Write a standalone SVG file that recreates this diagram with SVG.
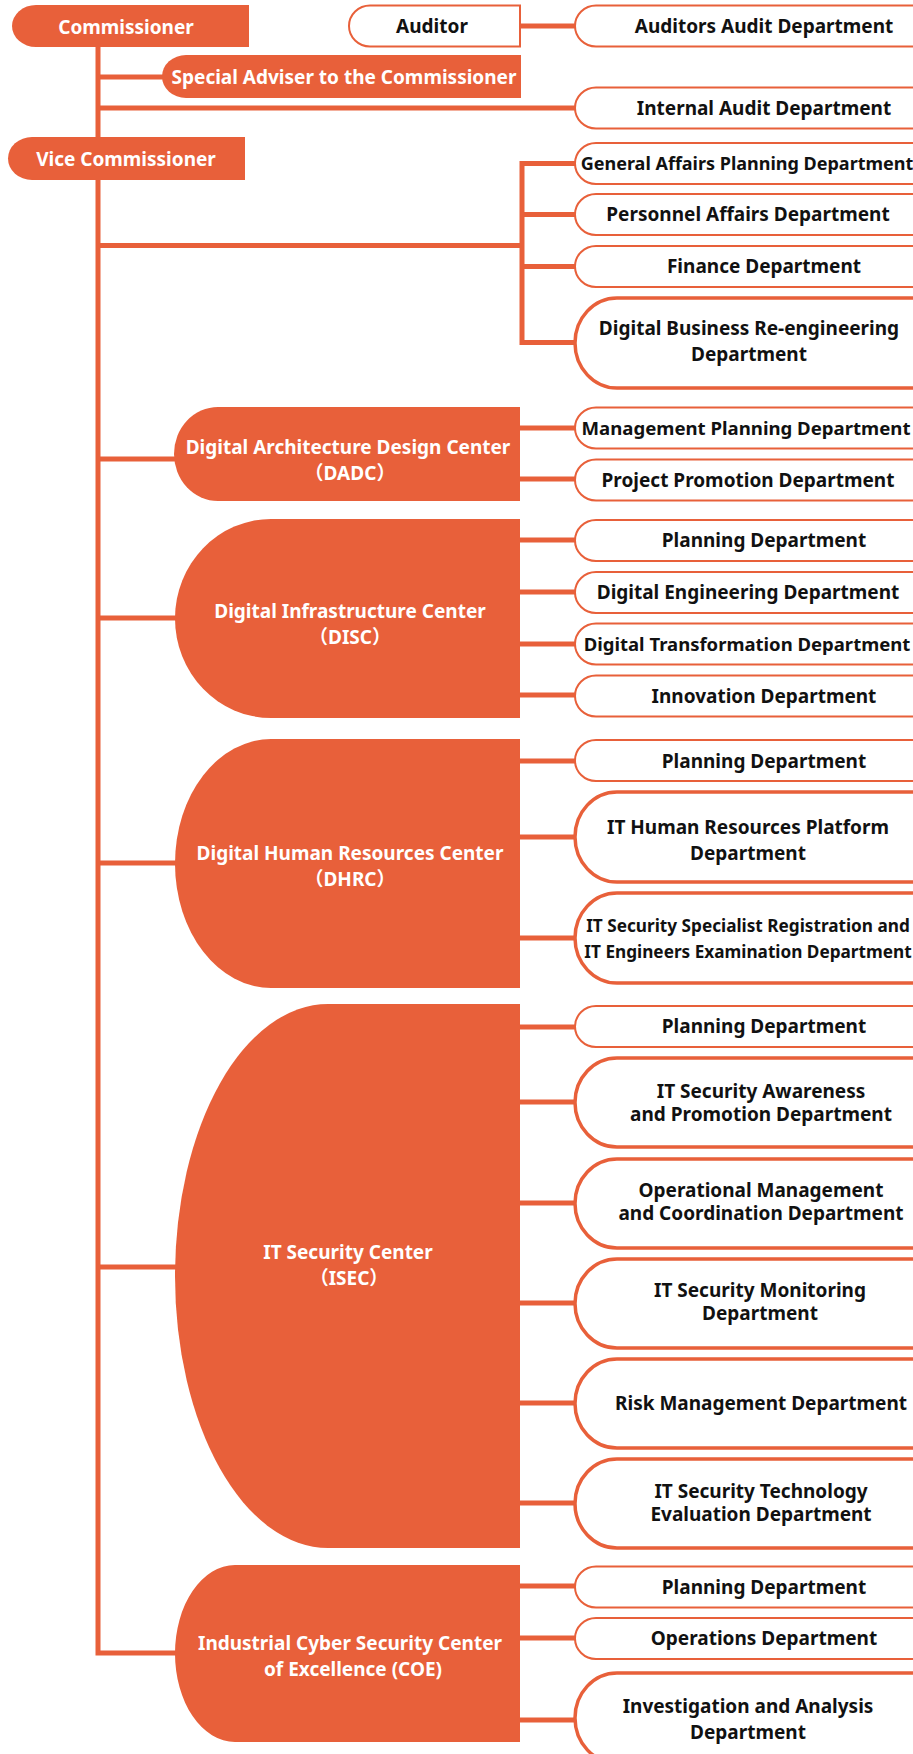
<svg xmlns="http://www.w3.org/2000/svg" width="913" height="1754" viewBox="0 0 913 1754">
<style>
.c{fill:#E8603A}
.d{fill:#fff;stroke:#E8603A;stroke-width:2}
.d2{fill:#fff;stroke:#E8603A;stroke-width:3.5}
.ln{fill:none;stroke:#E8603A;stroke-width:5}
text{font-family:"Noto Sans","Noto Sans CJK JP",sans-serif;font-weight:bold;font-size:19px;text-anchor:middle}
.w{fill:#fff}
.k{fill:#111}
</style>
<rect width="913" height="1754" fill="#fff"/>
<g id="connectors">
<path class="ln" d="M98,47 V1653 H177"/>
<path class="ln" d="M98,77 H164"/>
<path class="ln" d="M98,108 H576"/>
<path class="ln" d="M98,245.5 H522"/>
<path class="ln" d="M576,163.5 H522 V342.5 H576"/>
<path class="ln" d="M522,214.5 H576 M522,266.5 H576"/>
<path class="ln" d="M518,26 H576"/>
<path class="ln" d="M98,459 H176"/>
<path class="ln" d="M518,428 H576 M518,479 H576"/>
<path class="ln" d="M98,618 H177"/>
<path class="ln" d="M518,540 H576 M518,592 H576 M518,644 H576 M518,695 H576"/>
<path class="ln" d="M98,863 H177"/>
<path class="ln" d="M518,761 H576 M518,837 H576 M518,938 H576"/>
<path class="ln" d="M98,1267 H177"/>
<path class="ln" d="M518,1027 H576 M518,1102 H576 M518,1203 H576 M518,1303 H576 M518,1403 H576 M518,1503 H576"/>
<path class="ln" d="M518,1586 H576 M518,1638 H576 M518,1720 H576"/>
</g>
<g id="commissioner"><path class="c" d="M249,5 H36 A24,21 0 0 0 36,47 H249 Z"/><text class="w" x="126" y="34">Commissioner</text></g>
<g id="special-adviser"><path class="c" d="M521,55 H186 A24,21.5 0 0 0 186,98 H521 Z"/><text class="w" x="344" y="84">Special Adviser to the Commissioner</text></g>
<g id="vice-commissioner"><path class="c" d="M245,137 H32 A24,21.5 0 0 0 32,180 H245 Z"/><text class="w" x="126" y="166">Vice Commissioner</text></g>
<g id="auditor"><path class="d" d="M520,5.5 H370 A21,20.5 0 0 0 370,46.5 H520 Z"/><text class="k" x="432" y="33">Auditor</text></g>
<g id="auditors-audit"><rect class="d" x="575" y="5.5" width="380" height="41" rx="21" ry="20.5"/><text class="k" x="764" y="33">Auditors Audit Department</text></g>
<g id="internal-audit"><rect class="d" x="575" y="87.5" width="380" height="41" rx="21" ry="20.5"/><text class="k" x="764" y="115">Internal Audit Department</text></g>
<g id="general-affairs"><rect class="d" x="575" y="143" width="380" height="41" rx="21" ry="20.5"/><text class="k" x="747" y="170" style="font-size:18px">General Affairs Planning Department</text></g>
<g id="personnel"><rect class="d" x="575" y="194" width="380" height="41" rx="21" ry="20.5"/><text class="k" x="748" y="221">Personnel Affairs Department</text></g>
<g id="finance"><rect class="d" x="575" y="246" width="380" height="41" rx="21" ry="20.5"/><text class="k" x="764" y="273">Finance Department</text></g>
<g id="dbr"><rect class="d2" x="575" y="298" width="380" height="90" rx="42" ry="45"/><text class="k" x="749" y="335">Digital Business Re-engineering</text><text class="k" x="749" y="361">Department</text></g>
<g id="dadc"><path class="c" d="M520,407 H218 A44,47 0 0 0 218,501 H520 Z"/><text class="w" x="348" y="454">Digital Architecture Design Center</text><text class="w" x="350" y="480">（DADC）</text></g>
<g id="dadc-mgmt"><rect class="d" x="575" y="407.5" width="380" height="41" rx="21" ry="20.5"/><text class="k" x="746" y="435" style="font-size:18.6px">Management Planning Department</text></g>
<g id="dadc-proj"><rect class="d" x="575" y="459.5" width="380" height="41" rx="21" ry="20.5"/><text class="k" x="748" y="487">Project Promotion Department</text></g>
<g id="disc"><path class="c" d="M520,519 H271 A96,99.5 0 0 0 271,718 H520 Z"/><text class="w" x="350" y="618">Digital Infrastructure Center</text><text class="w" x="350" y="644">（DISC）</text></g>
<g id="disc-plan"><rect class="d" x="575" y="520" width="380" height="41" rx="21" ry="20.5"/><text class="k" x="764" y="547">Planning Department</text></g>
<g id="disc-eng"><rect class="d" x="575" y="572" width="380" height="41" rx="21" ry="20.5"/><text class="k" x="748" y="599">Digital Engineering Department</text></g>
<g id="disc-dx"><rect class="d" x="575" y="623.5" width="380" height="41" rx="21" ry="20.5"/><text class="k" x="747" y="651" style="font-size:18.5px">Digital Transformation Department</text></g>
<g id="disc-inno"><rect class="d" x="575" y="675.5" width="380" height="41" rx="21" ry="20.5"/><text class="k" x="764" y="703">Innovation Department</text></g>
<g id="dhrc"><path class="c" d="M520,739 H271 A96,124.5 0 0 0 271,988 H520 Z"/><text class="w" x="350" y="860">Digital Human Resources Center</text><text class="w" x="350" y="886">（DHRC）</text></g>
<g id="dhrc-plan"><rect class="d" x="575" y="740" width="380" height="41" rx="21" ry="20.5"/><text class="k" x="764" y="768">Planning Department</text></g>
<g id="dhrc-ithr"><rect class="d2" x="575" y="792" width="380" height="90" rx="42" ry="45"/><text class="k" x="748" y="834">IT Human Resources Platform</text><text class="k" x="748" y="860">Department</text></g>
<g id="dhrc-itss"><rect class="d2" x="575" y="893" width="380" height="90" rx="42" ry="45"/><text class="k" x="748" y="932" style="font-size:17.2px">IT Security Specialist Registration and</text><text class="k" x="748" y="958" style="font-size:17.2px">IT Engineers Examination Department</text></g>
<g id="isec"><path class="c" d="M520,1004 H328 A153,272 0 0 0 328,1548 H520 Z"/><text class="w" x="348" y="1259">IT Security Center</text><text class="w" x="349" y="1285">（ISEC）</text></g>
<g id="isec-plan"><rect class="d" x="575" y="1006" width="380" height="41" rx="21" ry="20.5"/><text class="k" x="764" y="1033">Planning Department</text></g>
<g id="isec-aware"><rect class="d2" x="575" y="1058" width="380" height="89" rx="42" ry="44.5"/><text class="k" x="761" y="1098">IT Security Awareness</text><text class="k" x="761" y="1121">and Promotion Department</text></g>
<g id="isec-ops"><rect class="d2" x="575" y="1159" width="380" height="89" rx="42" ry="44.5"/><text class="k" x="761" y="1197">Operational Management</text><text class="k" x="761" y="1220">and Coordination Department</text></g>
<g id="isec-mon"><rect class="d2" x="575" y="1259" width="380" height="89" rx="42" ry="44.5"/><text class="k" x="760" y="1297">IT Security Monitoring</text><text class="k" x="760" y="1320">Department</text></g>
<g id="isec-risk"><rect class="d2" x="575" y="1359" width="380" height="89" rx="42" ry="44.5"/><text class="k" x="761" y="1410">Risk Management Department</text></g>
<g id="isec-tech"><rect class="d2" x="575" y="1459" width="380" height="89" rx="42" ry="44.5"/><text class="k" x="761" y="1498">IT Security Technology</text><text class="k" x="761" y="1521">Evaluation Department</text></g>
<g id="coe"><path class="c" d="M520,1565 H235 A60,88.5 0 0 0 235,1742 H520 Z"/><text class="w" x="350" y="1650">Industrial Cyber Security Center</text><text class="w" x="353" y="1676">of Excellence (COE)</text></g>
<g id="coe-plan"><rect class="d" x="575" y="1566.5" width="380" height="41" rx="21" ry="20.5"/><text class="k" x="764" y="1594">Planning Department</text></g>
<g id="coe-ops"><rect class="d" x="575" y="1618" width="380" height="41" rx="21" ry="20.5"/><text class="k" x="764" y="1645">Operations Department</text></g>
<g id="coe-inv"><rect class="d2" x="575" y="1673" width="380" height="90" rx="42" ry="45"/><text class="k" x="748" y="1713">Investigation and Analysis</text><text class="k" x="748" y="1739">Department</text></g>
</svg>
